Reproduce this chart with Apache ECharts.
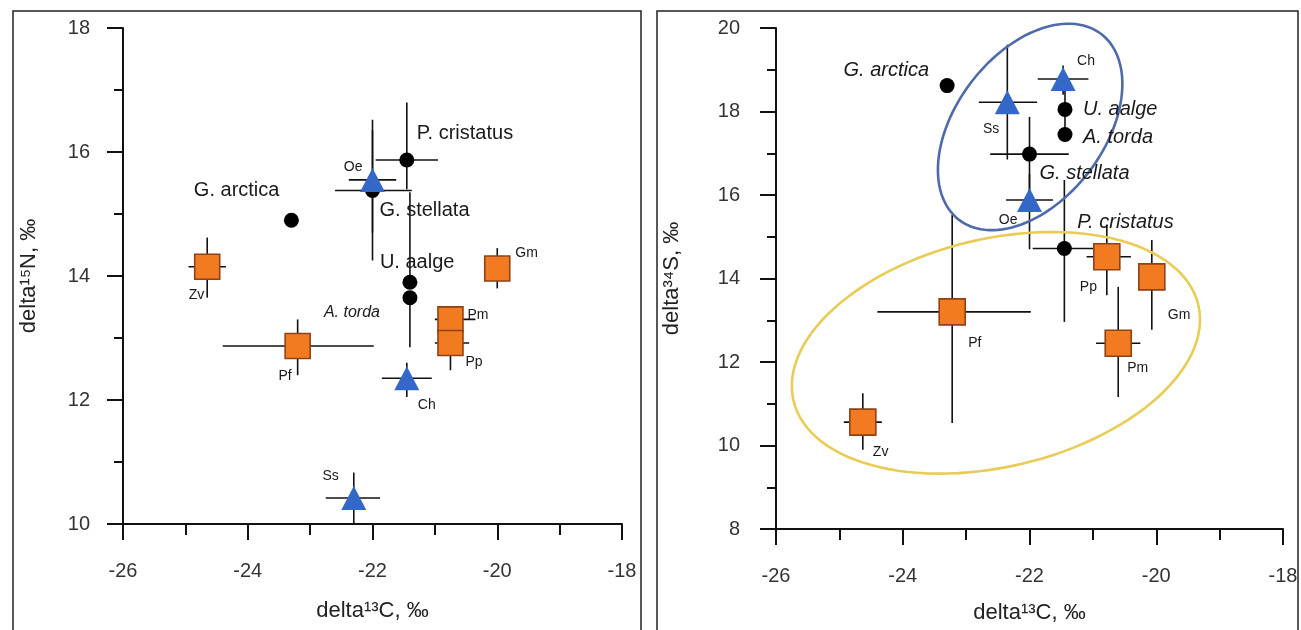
<!DOCTYPE html>
<html>
<head>
<meta charset="utf-8">
<script src="https://cdn.jsdelivr.net/npm/echarts@6/dist/echarts.min.js"></script>
<style>
  html, body { margin: 0; padding: 0; background: #fff; }
  #chart { width: 1301px; height: 630px; }
</style>
</head>
<body>
<div id="chart"></div>
<script>
// ---- left panel: delta15N vs delta13C ----
const nCircleNames = ['G. arctica', 'P. cristatus', 'G. stellata', 'U. aalge', 'A. torda']
const nCircleX = [-23.3, -21.45, -22.0, -21.4, -21.4]
const nCircleY = [14.9, 15.87, 15.38, 13.9, 13.65]
const nCircleXLo = [null, -21.95, -22.6, null, null]
const nCircleXHi = [null, -20.95, -21.37, null, null]
const nCircleYLo = [null, 15.4, 14.25, 13.9, 12.85]
const nCircleYHi = [null, 16.8, 16.52, 15.35, 13.65]

const nSquareNames = ['Zv', 'Pf', 'Gm', 'Pm', 'Pp']
const nSquareX = [-24.65, -23.2, -20.0, -20.75, -20.75]
const nSquareY = [14.15, 12.87, 14.12, 13.3, 12.92]
const nSquareXLo = [-24.95, -24.4, null, -21.0, -21.0]
const nSquareXHi = [-24.35, -21.98, null, -20.35, -20.45]
const nSquareYLo = [13.65, 12.4, 13.8, null, 12.48]
const nSquareYHi = [14.62, 13.3, 14.45, null, 13.2]

const nTriNames = ['Oe', 'Ch', 'Ss']
const nTriX = [-22.0, -21.45, -22.3]
const nTriY = [15.55, 12.35, 10.42]
const nTriXLo = [-22.38, -21.85, -22.75]
const nTriXHi = [-21.62, -21.05, -21.88]
const nTriYLo = [14.7, 12.05, 10.0]
const nTriYHi = [16.35, 12.6, 10.83]

// ---- right panel: delta34S vs delta13C ----
const sCircleNames = ['G. arctica', 'U. aalge', 'A. torda', 'G. stellata', 'P. cristatus']
const sCircleX = [-23.3, -21.44, -21.44, -22.0, -21.45]
const sCircleY = [18.62, 18.05, 17.45, 16.98, 14.72]
const sCircleXLo = [null, null, null, -22.62, -21.95]
const sCircleXHi = [null, null, null, -21.38, -20.98]
const sCircleYLo = [null, 17.45, 17.45, 15.85, 12.96]
const sCircleYHi = [null, 18.75, 17.45, 17.87, 16.36]

const sSquareNames = ['Zv', 'Pf', 'Pp', 'Pm', 'Gm']
const sSquareX = [-24.63, -23.22, -20.78, -20.6, -20.07]
const sSquareY = [10.56, 13.2, 14.52, 12.45, 14.04]
const sSquareXLo = [-24.93, -24.4, -21.1, -20.95, null]
const sSquareXHi = [-24.33, -21.98, -20.4, -20.25, null]
const sSquareYLo = [9.9, 10.54, 13.6, 11.16, 12.77]
const sSquareYHi = [11.25, 15.52, 15.28, 13.8, 14.92]

const sTriNames = ['Ch', 'Ss', 'Oe']
const sTriX = [-21.47, -22.35, -22.0]
const sTriY = [18.78, 18.22, 15.88]
const sTriXLo = [-21.87, -22.8, -22.37]
const sTriXHi = [-21.07, -21.88, -21.63]
const sTriYLo = [18.4, 16.85, 14.7]
const sTriYHi = [19.1, 19.6, 16.5]

// group ellipses on the right panel: centre in data units
const ellipseCX = [-21.99, -22.53]
const ellipseCY = [17.63, 12.22]

const xTicks = [-26, -24, -22, -20, -18]

// ---- layout / style (pixels) ----
const ellipseRX = [117, 208]
const ellipseRY = [74, 114]
const ellipseAngle = [52.6, 13.3]
const ellipseColor = ['#4f6aaa', '#e8cc55']

// label offsets [dx, dy, align]
const nCircleLab = [[-12, -30, 'right'], [10, -27, 'left'], [7, 20, 'left'], [-30, -20, 'left'], [-30, 15, 'right']]
const nSquareLab = [[-3, 28, 'right'], [-6, 30, 'right'], [18, -15, 'left'], [17, -4, 'left'], [15, 19, 'left']]
const nTriLab = [[-10, -13, 'right'], [11, 27, 'left'], [-15, -22, 'right']]
const sCircleLab = [[-18, -15, 'right'], [18, 0, 'left'], [18, 3, 'left'], [10, 19, 'left'], [13, -26, 'left']]
const sSquareLab = [[10, 30, 'left'], [16, 31, 'left'], [-27, 30, 'left'], [9, 25, 'left'], [16, 38, 'left']]
const sTriLab = [[14, -18, 'left'], [-8, 27, 'right'], [-12, 20, 'right']]

const FONT = 'Liberation Sans, Arial, sans-serif'

function pick(v, d) { return v === null || v === undefined ? d : v }

function markerData(names, xs, ys, labs, big, italic) {
  return xs.map((x, i) => ({
    value: [x, ys[i]],
    name: names[i],
    label: {
      show: true,
      position: 'inside',
      formatter: names[i],
      offset: [labs[i][0], labs[i][1]],
      align: labs[i][2],
      verticalAlign: 'middle',
      color: '#1a1a1a',
      fontFamily: FONT,
      fontSize: big ? 20 : 14,
      fontStyle: italic ? 'italic' : 'normal'
    }
  }))
}

function errData(xs, ys, xlo, xhi, ylo, yhi) {
  return xs.map((x, i) => [x, ys[i], pick(xlo[i], x), pick(xhi[i], x), pick(ylo[i], ys[i]), pick(yhi[i], ys[i])])
}

function renderErr(params, api) {
  const x = api.value(0), y = api.value(1)
  const xl = api.value(2), xh = api.value(3), yl = api.value(4), yh = api.value(5)
  const kids = []
  const st = { stroke: '#111', lineWidth: 1.6 }
  if (xl !== xh) {
    const a = api.coord([xl, y]), b = api.coord([xh, y])
    kids.push({ type: 'line', shape: { x1: a[0], y1: a[1], x2: b[0], y2: b[1] }, style: st })
  }
  if (yl !== yh) {
    const a = api.coord([x, yl]), b = api.coord([x, yh])
    kids.push({ type: 'line', shape: { x1: a[0], y1: a[1], x2: b[0], y2: b[1] }, style: st })
  }
  return { type: 'group', children: kids }
}

function renderEllipse(params, api) {
  const i = params.dataIndex
  const c = api.coord([api.value(0), api.value(1)])
  const th = ellipseAngle[i] * Math.PI / 180
  const pts = []
  for (let k = 0; k <= 120; k++) {
    const t = k / 120 * Math.PI * 2
    const ex = ellipseRX[i] * Math.cos(t), ey = ellipseRY[i] * Math.sin(t)
    pts.push([c[0] + ex * Math.cos(th) - ey * Math.sin(th), c[1] - (ex * Math.sin(th) + ey * Math.cos(th))])
  }
  return {
    type: 'polyline',
    shape: { points: pts },
    style: { stroke: ellipseColor[i], lineWidth: 2.6, fill: null }
  }
}

function errSeries(idx, xs, ys, xlo, xhi, ylo, yhi) {
  return {
    type: 'custom', xAxisIndex: idx, yAxisIndex: idx, z: 2, silent: true,
    renderItem: renderErr,
    encode: { x: 0, y: 1 },
    data: errData(xs, ys, xlo, xhi, ylo, yhi)
  }
}

const circleStyle = { color: '#000', opacity: 1 }
const squareStyle = { color: '#f27b22', borderColor: '#8f4215', borderWidth: 1.6, opacity: 1 }
const triStyle = { color: '#3468c8', opacity: 1 }

function axisX(idx, gap) {
  return {
    gridIndex: idx, type: 'value', min: -26, max: -18, interval: 2,
    name: 'delta¹³C, ‰', nameLocation: 'middle', nameGap: gap,
    nameTextStyle: { fontFamily: FONT, fontSize: 22, color: '#222' },
    axisLine: { onZero: false, lineStyle: { color: '#111', width: 2 } },
    axisTick: { length: 16, lineStyle: { color: '#111', width: 2 } },
    minorTick: { show: true, splitNumber: 2, length: 11, lineStyle: { color: '#111', width: 2 } },
    splitLine: { show: false },
    axisLabel: { fontFamily: FONT, fontSize: 20, color: '#333', margin: 37,
      formatter: v => xTicks.includes(v) ? String(v) : '' }
  }
}

function axisY(idx, min, max, name, gap, margin) {
  return {
    gridIndex: idx, type: 'value', min: min, max: max, interval: 2,
    name: name, nameLocation: 'middle', nameGap: gap,
    nameTextStyle: { fontFamily: FONT, fontSize: 22, color: '#222' },
    axisLine: { onZero: false, lineStyle: { color: '#111', width: 2 } },
    axisTick: { length: 16, lineStyle: { color: '#111', width: 2 } },
    minorTick: { show: true, splitNumber: 2, length: 9, lineStyle: { color: '#111', width: 2 } },
    splitLine: { show: false },
    axisLabel: { fontFamily: FONT, fontSize: 20, color: '#333', margin: margin }
  }
}

function markerSeries(idx, symbol, size, style, data) {
  return {
    type: 'scatter', xAxisIndex: idx, yAxisIndex: idx, z: 5, symbol: symbol, symbolSize: size,
    itemStyle: style, emphasis: { disabled: true }, data: data
  }
}

const nCircleData = markerData(nCircleNames, nCircleX, nCircleY, nCircleLab, true, false)
nCircleData[4].label.fontSize = 16
nCircleData[4].label.fontStyle = 'italic'

const chart = echarts.init(document.getElementById('chart'))
chart.setOption({
  animation: false,
  backgroundColor: '#fff',
  grid: [
    { left: 123, top: 28, width: 499, height: 496 },
    { left: 776, top: 28, width: 507, height: 501 }
  ],
  xAxis: [axisX(0, 76), axisX(1, 73)],
  yAxis: [
    axisY(0, 10, 18, 'delta¹⁵N, ‰', 83, 33),
    axisY(1, 8, 20, 'delta³⁴S, ‰', 93, 36)
  ],
  graphic: [
    { type: 'rect', shape: { x: 13, y: 11, width: 628, height: 660 }, style: { fill: null, stroke: '#222', lineWidth: 1.5 }, silent: true },
    { type: 'rect', shape: { x: 657, y: 11, width: 641, height: 660 }, style: { fill: null, stroke: '#222', lineWidth: 1.5 }, silent: true }
  ],
  series: [
    errSeries(0, nCircleX, nCircleY, nCircleXLo, nCircleXHi, nCircleYLo, nCircleYHi),
    errSeries(0, nSquareX, nSquareY, nSquareXLo, nSquareXHi, nSquareYLo, nSquareYHi),
    errSeries(0, nTriX, nTriY, nTriXLo, nTriXHi, nTriYLo, nTriYHi),
    errSeries(1, sCircleX, sCircleY, sCircleXLo, sCircleXHi, sCircleYLo, sCircleYHi),
    errSeries(1, sSquareX, sSquareY, sSquareXLo, sSquareXHi, sSquareYLo, sSquareYHi),
    errSeries(1, sTriX, sTriY, sTriXLo, sTriXHi, sTriYLo, sTriYHi),
    {
      type: 'custom', xAxisIndex: 1, yAxisIndex: 1, z: 3, silent: true,
      renderItem: renderEllipse, encode: { x: 0, y: 1 },
      data: ellipseCX.map((x, i) => [x, ellipseCY[i]])
    },
    markerSeries(0, 'circle', 15, circleStyle, nCircleData),
    markerSeries(0, 'rect', 25, squareStyle, markerData(nSquareNames, nSquareX, nSquareY, nSquareLab, false, false)),
    markerSeries(0, 'triangle', [25, 24], triStyle, markerData(nTriNames, nTriX, nTriY, nTriLab, false, false)),
    markerSeries(1, 'circle', 15, circleStyle, markerData(sCircleNames, sCircleX, sCircleY, sCircleLab, true, true)),
    markerSeries(1, 'rect', 26, squareStyle, markerData(sSquareNames, sSquareX, sSquareY, sSquareLab, false, false)),
    markerSeries(1, 'triangle', [25, 24], triStyle, markerData(sTriNames, sTriX, sTriY, sTriLab, false, false))
  ]
})
</script>
</body>
</html>
